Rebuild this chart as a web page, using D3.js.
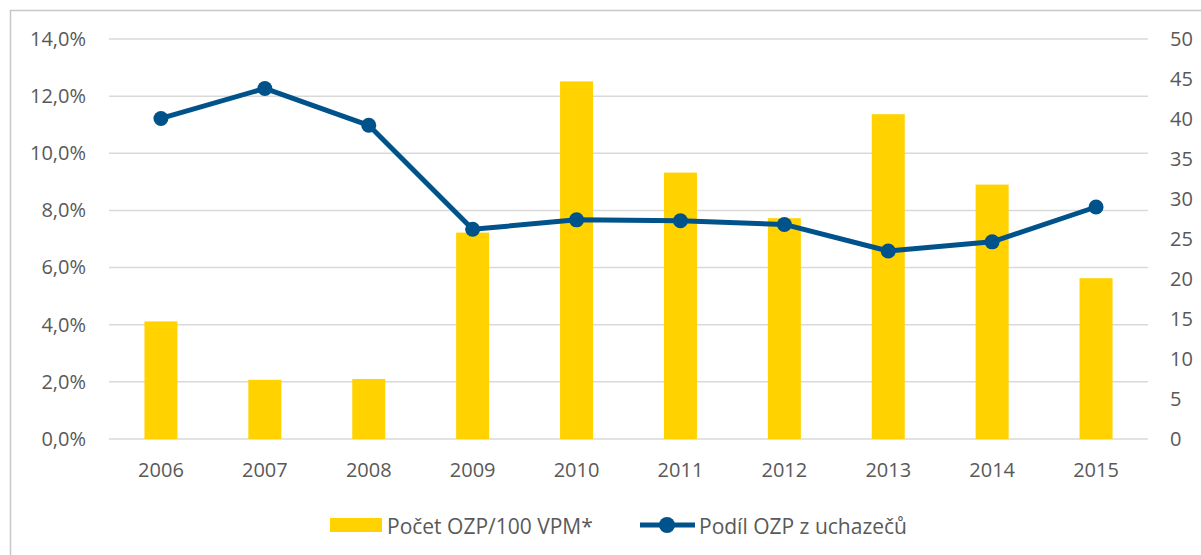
<!DOCTYPE html>
<meta http-equiv="content-type" content="text/html; charset=utf-8" />
<html lang="cs">
<head>
<title>OZP</title>
<script src="https://d3js.org/d3.v7.min.js"></script>
<style>
body { margin: 0; background: #fff; }
svg { display: block; font-family: "Open Sans", sans-serif; }
</style>
</head>
<body>
<div id="plot"></div>
</body>
<script>
var width = 1201, height = 555;

// data
var years = ["2006","2007","2008","2009","2010","2011","2012","2013","2014","2015"];
var pocet = [14.7, 7.4, 7.5, 25.8, 44.7, 33.3, 27.6, 40.6, 31.8, 20.1];       // bars, right axis
var podil = [0.1122, 0.1227, 0.1098, 0.0734, 0.0767, 0.0764, 0.0751, 0.0658, 0.0690, 0.0812]; // line, left axis
var leftTicks = [0, 0.02, 0.04, 0.06, 0.08, 0.10, 0.12, 0.14];
var rightTicks = [0, 5, 10, 15, 20, 25, 30, 35, 40, 45, 50];

var margin = {left: 109, right: 53, top: 39, bottom: 115};
var svg = d3.select("#plot").append("svg")
  .attr("width", width).attr("height", height);

// outer frame
svg.append("rect").attr("x", 10.5).attr("y", 10.5)
  .attr("width", width + 10).attr("height", height + 10)
  .attr("fill", "none").attr("stroke", "#c8c8c8").attr("stroke-width", 1.5);

var x = d3.scaleBand().domain(years).range([margin.left, width - margin.right]).paddingInner(0).paddingOuter(0);
var yL = d3.scaleLinear().domain([0, 0.14]).range([height - margin.bottom - 1, margin.top]);
var yR = d3.scaleLinear().domain([0, 50]).range(yL.range());

var fmt = function(v){ return d3.format(".1%")(v).replace(".", ","); };

// gridlines
svg.append("g").selectAll("line").data(leftTicks).enter().append("line")
  .attr("x1", margin.left).attr("x2", width - margin.right)
  .attr("y1", d => yL(d)).attr("y2", d => yL(d))
  .attr("stroke", "#d9d9d9").attr("stroke-width", 1.5);

// left axis
var axL = svg.append("g").attr("transform", "translate(" + (margin.left - 23) + ",0)")
  .call(d3.axisLeft(yL).tickValues(leftTicks).tickFormat(fmt).tickSize(0).tickPadding(0));
// right axis
var axR = svg.append("g").attr("transform", "translate(" + (width - margin.right + 22) + ",0)")
  .call(d3.axisRight(yR).tickValues(rightTicks).tickSize(0).tickPadding(0));
// bottom axis
var axB = svg.append("g").attr("transform", "translate(0," + yL(0) + ")")
  .call(d3.axisBottom(x).tickSize(0).tickPadding(24));
[axL, axR, axB].forEach(function(a){
  a.select(".domain").remove();
  a.selectAll("text").attr("fill", "#595959").style("font-size", "20px").style("font-family", "'Open Sans', sans-serif");
});

// bars
var bw = 33;
svg.append("g").selectAll("rect").data(pocet).enter().append("rect")
  .attr("x", (d, i) => x(years[i]) + x.bandwidth() / 2 - bw / 2)
  .attr("width", bw)
  .attr("y", d => yR(d))
  .attr("height", d => yR(0) - yR(d))
  .attr("fill", "#ffd200");

// line
var line = d3.line().x((d, i) => x(years[i]) + x.bandwidth() / 2).y(d => yL(d));
svg.append("path").datum(podil).attr("d", line)
  .attr("fill", "none").attr("stroke", "#00528a").attr("stroke-width", 5).attr("stroke-linejoin", "round");
svg.append("g").selectAll("circle").data(podil).enter().append("circle")
  .attr("cx", (d, i) => x(years[i]) + x.bandwidth() / 2)
  .attr("cy", d => yL(d)).attr("r", 7.5).attr("fill", "#00528a");

// legend
var lg = svg.append("g").style("font-size", "21px").attr("fill", "#595959");
lg.append("rect").attr("x", 330).attr("y", 518).attr("width", 52).attr("height", 14).attr("fill", "#ffd200");
lg.append("text").attr("x", 387).attr("y", 527).attr("dy", "0.35em").text("Počet OZP/100 VPM*");
lg.append("line").attr("x1", 640).attr("x2", 695).attr("y1", 525).attr("y2", 525)
  .attr("stroke", "#00528a").attr("stroke-width", 5);
lg.append("circle").attr("cx", 667).attr("cy", 525).attr("r", 8).attr("fill", "#00528a");
lg.append("text").attr("x", 699).attr("y", 527).attr("dy", "0.35em").text("Podíl OZP z uchazečů");
</script>
</html>
